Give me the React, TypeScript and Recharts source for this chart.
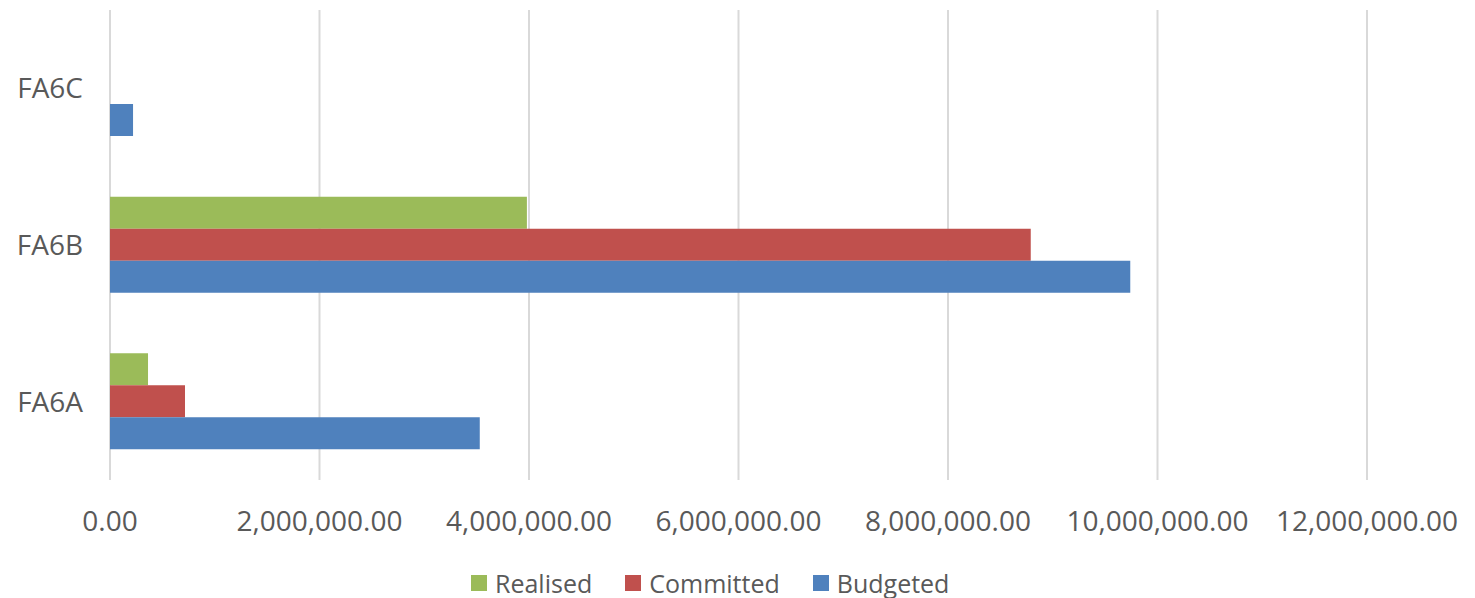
import React from 'react';
import { BarChart, Bar, XAxis, YAxis, CartesianGrid, Legend } from 'recharts';

const categories = ['FA6C', 'FA6B', 'FA6A'];
const realised = [0, 3980000, 363000];
const committed = [0, 8790000, 716000];
const budgeted = [220000, 9740000, 3530000];
const xTicks = [0, 2000000, 4000000, 6000000, 8000000, 10000000, 12000000];

const seriesList = [
  { key: 'Realised', color: '#9BBB59' },
  { key: 'Committed', color: '#C0504D' },
  { key: 'Budgeted', color: '#4F81BD' },
];

const chartData = categories.map((name, i) => ({
  name,
  Realised: realised[i],
  Committed: committed[i],
  Budgeted: budgeted[i],
}));

const fmt = (v: number) =>
  v.toLocaleString('en-US', { minimumFractionDigits: 2, maximumFractionDigits: 2 });

const textColor = '#595959';
const font = '"Open Sans", sans-serif';

const LegendBox = () => (
  <div style={{ height: 48, display: 'flex', justifyContent: 'flex-start', alignItems: 'flex-start', paddingLeft: 471, paddingTop: 24, boxSizing: 'border-box', fontFamily: font, fontSize: 25, color: textColor }}>
    {seriesList.map(s => (
      <div key={s.key} style={{ display: 'flex', alignItems: 'center', marginRight: 33, lineHeight: '18px' }}>
        <span style={{ width: 16, height: 16, background: s.color, display: 'inline-block', marginRight: 8 }} />
        <span>{s.key}</span>
      </div>
    ))}
  </div>
);

const App: React.FC = () => {
  return (
    <div style={{ position: 'absolute', left: 0, top: 0, width: 1475, height: 598, background: '#fff', overflow: 'hidden' }}>
      <BarChart
        width={1475}
        height={598}
        data={chartData}
        layout="vertical"
        margin={{ top: 10, right: 108, bottom: 0, left: 0 }}
        barGap={0}
        barSize={32}
      >
        <CartesianGrid horizontal={false} vertical stroke="#d9d9d9" strokeWidth={2} />
        <XAxis
          type="number"
          domain={[0, 12000000]}
          ticks={xTicks}
          tickFormatter={fmt}
          axisLine={false}
          tickLine={false}
          tickSize={0}
          tickMargin={31}
          height={70}
          interval={0}
          tick={{ fill: textColor, fontSize: 28, fontFamily: font }}
        />
        <YAxis
          type="category"
          dataKey="name"
          width={110}
          axisLine={false}
          tickLine={false}
          tickSize={0}
          tickMargin={27}
          tick={{ fill: textColor, fontSize: 28, fontFamily: font }}
        />
        <Legend verticalAlign="bottom" content={<LegendBox />} />
        {seriesList.map(s => (
          <Bar key={s.key} dataKey={s.key} fill={s.color} isAnimationActive={false} />
        ))}
      </BarChart>
    </div>
  );
};

export default App;
